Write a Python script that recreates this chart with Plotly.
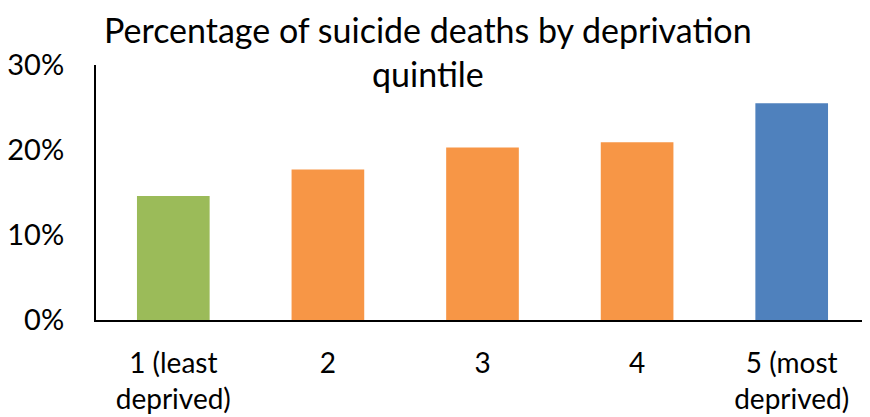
import plotly.graph_objects as go

categories = ["1 (least<br>deprived)", "2", "3", "4", "5 (most<br>deprived)"]
values = [14.6, 17.7, 20.3, 20.9, 25.5]
colors = ["#9BBB59", "#F79646", "#F79646", "#F79646", "#4F81BD"]
y_ticks = [0, 10, 20, 30]
y_tick_labels = ["0%", "10%", "20%", "30%"]
title_lines = ["Percentage of suicide deaths by deprivation", "quintile"]

FONT = "Lato, sans-serif"

fig = go.Figure(go.Bar(x=categories, y=values, marker=dict(color=colors, line=dict(width=0)), width=0.47))

fig.update_layout(
    width=862, height=409,
    margin=dict(l=88, r=1, t=57, b=97, autoexpand=False),
    paper_bgcolor="white", plot_bgcolor="white",
    font=dict(family=FONT, size=29, color="black"),
    showlegend=False,
)
fig.add_annotation(text=title_lines[0], xref="paper", yref="paper", x=0.43, y=1.0, yanchor="middle",
                   xanchor="center", showarrow=False, font=dict(size=34), yshift=(57 - 21))
fig.add_annotation(text=title_lines[1], xref="paper", yref="paper", x=0.43, y=1.0, yanchor="middle",
                   xanchor="center", showarrow=False, font=dict(size=34), yshift=(57 - 65))
fig.update_yaxes(range=[0, 30], tickvals=y_ticks, ticktext=y_tick_labels, automargin=False,
                 showgrid=False, zeroline=False, showline=True, linecolor="black", linewidth=2,
                 ticks="outside", ticklen=0, ticklabelstandoff=24)
fig.update_xaxes(showgrid=False, showline=True, linecolor="black", linewidth=2, automargin=False,
                 ticks="outside", ticklen=0, ticklabelstandoff=17, tickfont=dict(size=28))

fig.write_html("out.html")
